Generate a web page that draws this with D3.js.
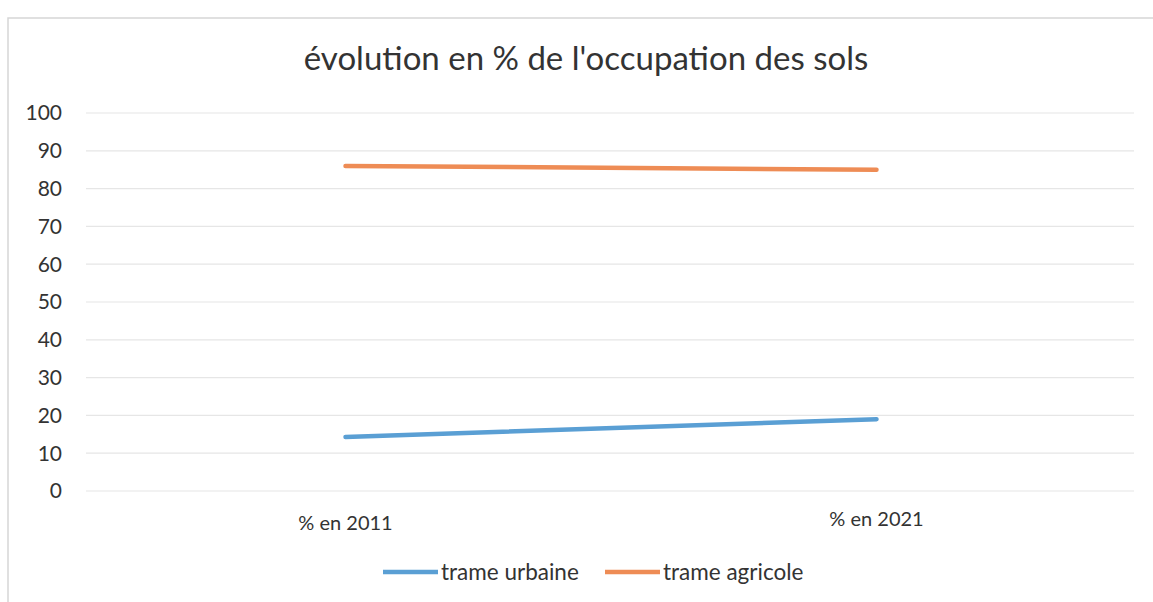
<!DOCTYPE html>
<html>
<head>
<meta charset="utf-8">
<script src="https://cdn.jsdelivr.net/npm/d3@7"></script>
<style>
  body { margin: 0; background: #fff; }
  text { font-family: Lato, "Open Sans", sans-serif; fill: #333; }
</style>
</head>
<body>
<div id="chart"></div>
<script>
// data
const categories = ["% en 2011", "% en 2021"];
const urbaine = [14.3, 19];
const agricole = [86, 85];
const seriesNames = ["trame urbaine", "trame agricole"];
const seriesColors = ["#5a9fd4", "#ee8c55"];
const yTicks = [0, 10, 20, 30, 40, 50, 60, 70, 80, 90, 100];

const width = 1153, height = 602;
const svg = d3.select("#chart").append("svg")
  .attr("width", width)
  .attr("height", height);

// chart frame
svg.append("rect")
  .attr("x", 8).attr("y", 18)
  .attr("width", 1160).attr("height", 600)
  .attr("fill", "none")
  .attr("stroke", "#d6d6d6")
  .attr("stroke-width", 1.5);

svg.append("text")
  .attr("x", 586).attr("y", 70)
  .attr("text-anchor", "middle")
  .style("font-size", "33px")
  .text("évolution en % de l'occupation des sols");

const x = d3.scalePoint().domain(categories).range([80, 1142]).padding(0.5);
const y = d3.scaleLinear().domain([0, 100]).range([491, 113]);

// gridlines
svg.append("g")
  .selectAll("line")
  .data(yTicks)
  .join("line")
  .attr("x1", 86).attr("x2", 1134)
  .attr("y1", d => y(d)).attr("y2", d => y(d))
  .attr("stroke", "#e6e6e6")
  .attr("stroke-width", 1.2);

// y axis labels
svg.append("g")
  .selectAll("text")
  .data(yTicks)
  .join("text")
  .attr("x", 62)
  .attr("y", d => y(d))
  .attr("dy", "0.35em")
  .attr("text-anchor", "end")
  .style("font-size", "21px")
  .text(d => d);

// x labels
svg.append("g")
  .selectAll("text")
  .data(categories)
  .join("text")
  .attr("x", d => x(d))
  .attr("y", (d, i) => i === 0 ? 530 : 526)
  .attr("text-anchor", "middle")
  .style("font-size", "20px")
  .text(d => d);

const line = d3.line()
  .x((d, i) => x(categories[i]))
  .y(d => y(d));

[urbaine, agricole].forEach((vals, i) => {
  svg.append("path")
    .datum(vals)
    .attr("d", line)
    .attr("fill", "none")
    .attr("stroke", seriesColors[i])
    .attr("stroke-width", 4.5)
    .attr("stroke-linecap", "round");
});

// legend
const legendX = [383, 605];
seriesNames.forEach((name, i) => {
  const g = svg.append("g").attr("transform", `translate(${legendX[i]},572)`);
  g.append("line")
    .attr("x1", 0).attr("x2", 55)
    .attr("stroke", seriesColors[i])
    .attr("stroke-width", 4.5);
  g.append("text")
    .attr("x", 58).attr("dy", "0.35em")
    .style("font-size", "22.5px")
    .text(name);
});
</script>
</body>
</html>
